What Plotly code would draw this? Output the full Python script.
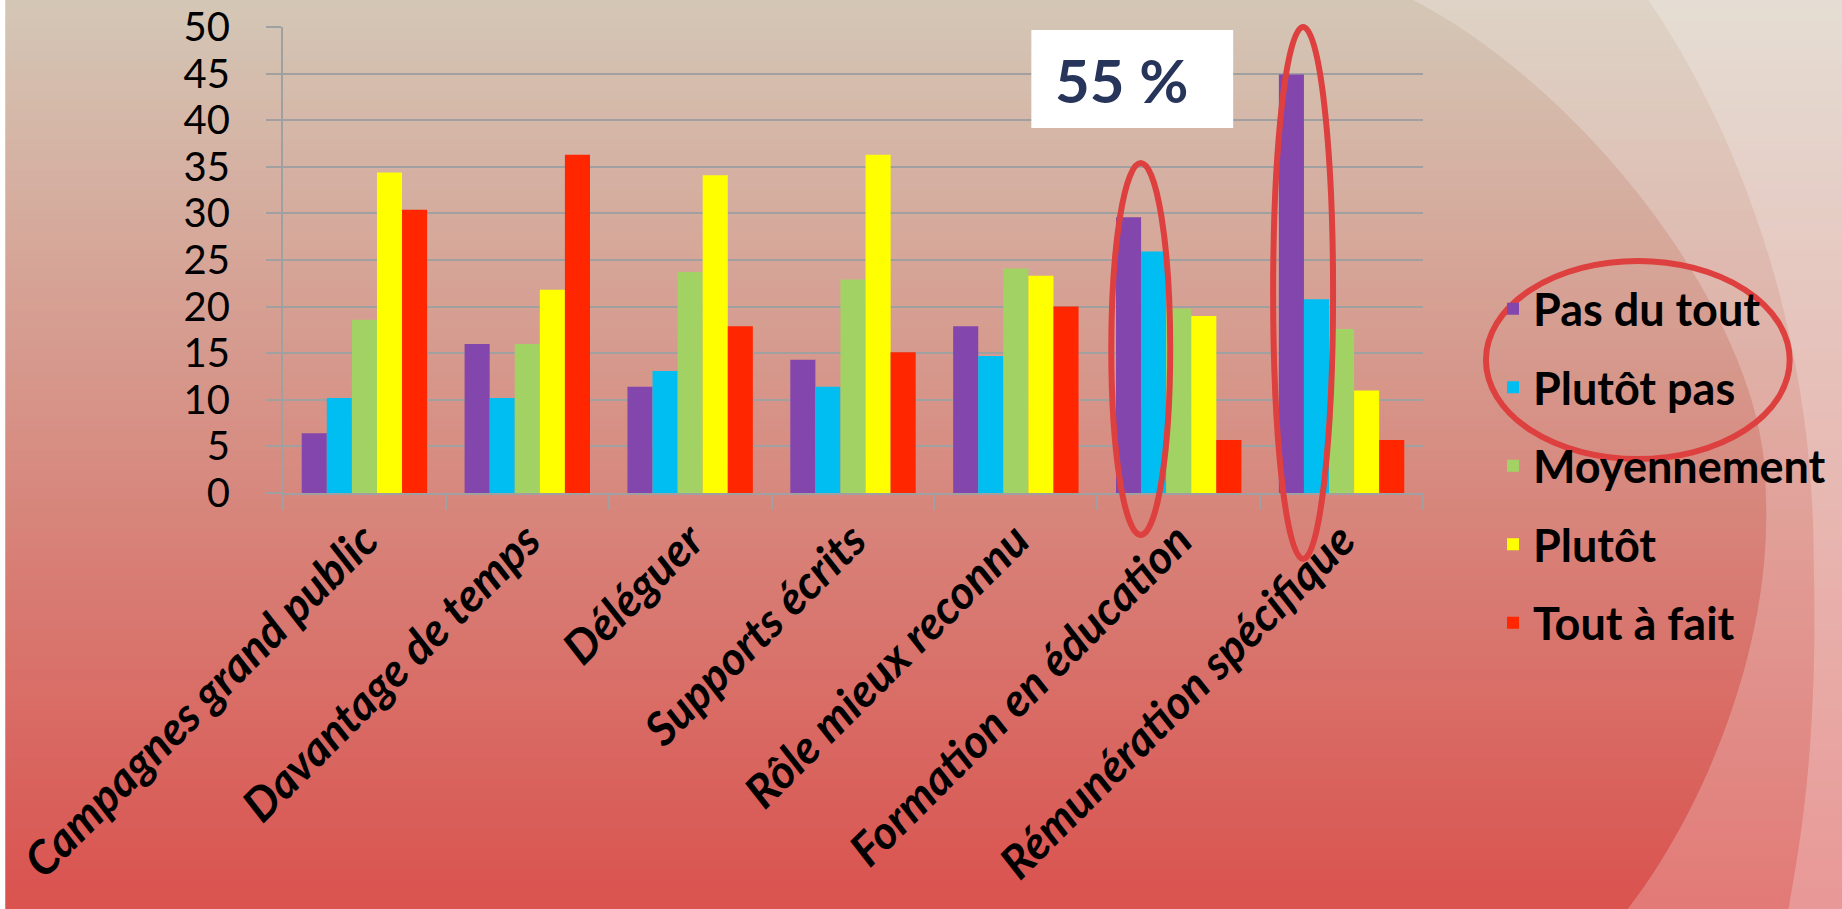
import plotly.graph_objects as go

# ---------------- data ----------------
categories = ["Campagnes grand public", "Davantage de temps", "Déléguer", "Supports écrits",
              "Rôle mieux reconnu", "Formation en éducation", "Rémunération spécifique"]
series_names = ["Pas du tout", "Plutôt pas", "Moyennement", "Plutôt", "Tout à fait"]
pas_du_tout = [6.4, 16.0, 11.4, 14.3, 17.9, 29.6, 44.9]
plutot_pas = [10.2, 10.2, 13.1, 11.4, 14.7, 25.9, 20.8]
moyennement = [18.6, 16.0, 23.7, 22.9, 24.1, 19.8, 17.6]
plutot = [34.4, 21.8, 34.1, 36.3, 23.3, 19.0, 11.0]
tout_a_fait = [30.4, 36.3, 17.9, 15.1, 20.0, 5.7, 5.7]
y_ticks = [0, 5, 10, 15, 20, 25, 30, 35, 40, 45, 50]
callout_text = "55 %"

series_values = [pas_du_tout, plutot_pas, moyennement, plutot, tout_a_fait]
colors = ["#8346AD", "#00BEF2", "#A2D264", "#FFFF00", "#FF2600"]

# ---------------- geometry ----------------
W, H = 1842, 909
L, R, T, B = 283, 1424, 27, 493


def px(X):
    return (X - L) / (R - L)


def py(Y):
    return (B - Y) / (B - T)


fig = go.Figure()
for i, (name, vals) in enumerate(zip(series_names, series_values)):
    fig.add_trace(go.Bar(
        x=categories, y=vals, name=name, legendgroup=name,
        marker=dict(color=colors[i], line=dict(width=0)),
    ))

shapes = []
# background vertical gradient (beige top -> red bottom)
top = (212, 199, 182)
bot = (218, 82, 78)
N = 91
for i in range(N):
    t = (i + 0.5) / N
    c = tuple(round(top[k] + (bot[k] - top[k]) * t) for k in range(3))
    y0 = i * H / N
    y1 = (i + 1) * H / N + 1
    shapes.append(dict(type="rect", xref="paper", yref="paper",
                       x0=px(-5), x1=px(W + 5), y0=py(y1), y1=py(y0),
                       fillcolor="rgb(%d,%d,%d)" % c, line=dict(width=0), layer="below"))


def P(X, Y):
    return "%.5f,%.5f" % (px(X), py(Y))


# lighter curved swooshes at the right
pathA = ("M " + P(1404, -5) + " C " + P(1580, 80) + " " + P(1770, 320) + " " + P(1767, 493) +
         " C " + P(1775, 650) + " " + P(1700, 820) + " " + P(1625, 914) +
         " L " + P(1850, 914) + " L " + P(1850, -5) + " Z")
pathB = ("M " + P(1646, -5) + " C " + P(1720, 100) + " " + P(1815, 300) + " " + P(1815, 560) +
         " C " + P(1820, 750) + " " + P(1800, 850) + " " + P(1789, 914) +
         " L " + P(1850, 914) + " L " + P(1850, -5) + " Z")
for pth in (pathA, pathB):
    shapes.append(dict(type="path", xref="paper", yref="paper", path=pth,
                       fillcolor="rgba(255,255,255,0.23)", line=dict(width=0), layer="below"))

# white strip at left edge
shapes.append(dict(type="rect", xref="paper", yref="paper", x0=px(-5), x1=px(5),
                   y0=py(H + 5), y1=py(-5), fillcolor="white", line=dict(width=0), layer="below"))

# white callout box
shapes.append(dict(type="rect", xref="paper", yref="paper", x0=px(1032), x1=px(1234),
                   y0=py(128), y1=py(30), fillcolor="white", line=dict(width=0), layer="above"))

# red ellipses
red = "#DD403E"
for (x0, x1, y0, y1) in [(1112, 1171, 163, 535), (1274, 1334, 27, 559), (1487, 1791, 261, 459)]:
    shapes.append(dict(type="circle", xref="paper", yref="paper",
                       x0=px(x0), x1=px(x1), y0=py(y1), y1=py(y0),
                       line=dict(color=red, width=6), fillcolor="rgba(0,0,0,0)", layer="above"))

grid = "#A0A0A0"
fig.update_layout(
    width=W, height=H,
    margin=dict(l=L, r=W - R, t=T, b=H - B, pad=0),
    paper_bgcolor="rgb(215,140,130)",
    plot_bgcolor="rgba(0,0,0,0)",
    barmode="group", bargap=0.23, bargroupgap=0,
    shapes=shapes,
    showlegend=True,
    legend=dict(x=px(1493), y=py(273), xanchor="left", yanchor="top",
                font=dict(family="Lato", size=45, color="black", weight="bold"),
                bgcolor="rgba(0,0,0,0)", traceorder="grouped", tracegroupgap=17),
    annotations=[dict(text=callout_text, xref="paper", yref="paper", x=px(1122), y=py(80),
                      xanchor="center", yanchor="middle", showarrow=False,
                      font=dict(family="Lato", size=60, color="#27355A", weight="bold"))],
    xaxis=dict(type="category", tickangle=-45, tickson="boundaries", ticks="outside",
               ticklen=15, tickwidth=2, tickcolor=grid, showline=True, linecolor=grid,
               linewidth=2, showgrid=False, automargin=False, range=[-0.5, 6.5],
               tickfont=dict(family="Lato", size=46, color="black", weight="bold", style="italic")),
    yaxis=dict(range=[0, 50], tickvals=y_ticks, showgrid=True, gridcolor=grid, gridwidth=2,
               ticks="outside", ticklen=15, tickwidth=2, tickcolor=grid, showline=True,
               linecolor=grid, linewidth=2, zeroline=False, automargin=False,
               ticklabelstandoff=28,
               tickfont=dict(family="Lato", size=40, color="black")),
)

fig.write_html("out.html", config={"displayModeBar": False},
               post_script="document.body.style.margin='0';document.body.style.overflow='hidden';")
